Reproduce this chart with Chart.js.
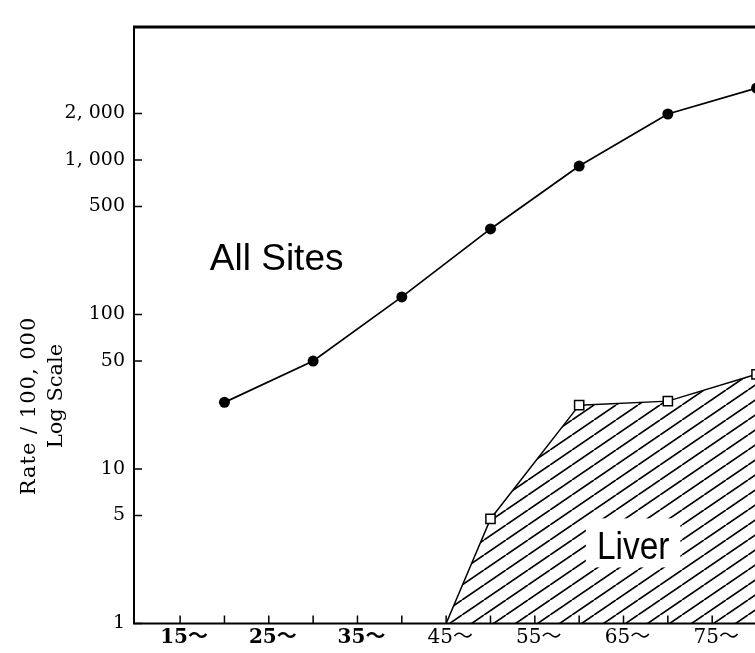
<!DOCTYPE html>
<html>
<head>
<meta charset="utf-8">
<script src="https://cdn.jsdelivr.net/npm/chart.js@4.4.1/dist/chart.umd.min.js"></script>
<style>
  html, body { margin: 0; padding: 0; background: #fff; overflow: hidden; }
  #wrap { width: 755px; height: 653px; overflow: hidden; position: relative; }
  #box { width: 800px; height: 653px; }
</style>
</head>
<body>
<div id="wrap"><div id="box"><canvas id="myChart"></canvas></div></div>
<script>
// ages (mid point of each 10 year group)
const ageAllSites = [20, 30, 40, 50, 60, 70, 80];
const allSites = [27, 50, 130, 358, 914, 1985, 2920];

const ageLiver = [45, 50, 60, 70, 80];
const liver = [1, 4.75, 25.9, 27.5, 41];

const yTicks = [1, 5, 10, 50, 100, 500, 1000, 2000];
const yTickLabels = ['1', '5', '10', '50', '100', '500', '1, 000', '2, 000'];

const xTicks = [15, 25, 35, 45, 55, 65, 75];
const xTickLabels = ['15〜', '25〜', '35〜', '45〜', '55〜', '65〜', '75〜'];
const xTickMarks = [15, 20, 25, 30, 35, 40, 45, 50, 55, 60, 65, 70, 75, 80];

const serif = "'DejaVu Serif', 'Noto Sans CJK JP', serif";
const sans = "'Liberation Sans', sans-serif";

function hatch() {
    const c = document.createElement('canvas');
    c.width = 22;
    c.height = 15;
    const g = c.getContext('2d');
    g.strokeStyle = '#000';
    g.lineWidth = 1.7;
    for (const dx of [-22, 0, 22]) {
        g.beginPath();
        g.moveTo(dx, 15);
        g.lineTo(dx + 22, 0);
        g.stroke();
    }
    return g.createPattern(c, 'repeat');
}

const marco = {
    id: 'marco',
    afterDatasetsDraw(chart) {
        const ctx = chart.ctx;
        const x = chart.scales.x, y = chart.scales.y;
        ctx.save();
        ctx.fillStyle = '#000';
        ctx.textAlign = 'left';
        ctx.textBaseline = 'alphabetic';

        ctx.font = '37px ' + sans;
        ctx.fillText('All Sites', x.getPixelForValue(18.35), y.getPixelForValue(194));

        // white box behind "Liver" (narrow lettering)
        ctx.font = '38px ' + sans;
        const lx = x.getPixelForValue(62.0), ly = y.getPixelForValue(2.6);
        const w = ctx.measureText('Liver').width * 0.88;
        ctx.fillStyle = '#fff';
        ctx.fillRect(lx - 11, ly - 41, w + 22, 49);
        ctx.fillStyle = '#000';
        ctx.translate(lx, ly);
        ctx.scale(0.88, 1);
        ctx.fillText('Liver', 0, 0);
        ctx.restore();
    },
    afterDraw(chart) {
        const ctx = chart.ctx, a = chart.chartArea;
        const x = chart.scales.x, y = chart.scales.y;
        ctx.save();
        ctx.strokeStyle = '#000';

        ctx.lineWidth = 3;
        ctx.beginPath();
        ctx.moveTo(a.left - 1, a.top);
        ctx.lineTo(a.right, a.top);
        ctx.stroke();

        ctx.lineWidth = 2;
        ctx.beginPath();
        ctx.moveTo(a.left, a.top);
        ctx.lineTo(a.left, a.bottom);
        ctx.lineTo(a.right, a.bottom);
        ctx.stroke();

        // inside ticks
        ctx.lineWidth = 1.5;
        ctx.beginPath();
        for (const v of yTicks) {
            const py = y.getPixelForValue(v);
            ctx.moveTo(a.left, py);
            ctx.lineTo(a.left + 8, py);
        }
        for (const v of xTickMarks) {
            const px = x.getPixelForValue(v);
            ctx.moveTo(px, a.bottom);
            ctx.lineTo(px, a.bottom - 8);
        }
        ctx.stroke();

        // y axis title
        ctx.fillStyle = '#000';
        ctx.font = '21px ' + serif;
        ctx.textAlign = 'center';
        ctx.textBaseline = 'middle';
        ctx.translate(30, 406);
        ctx.rotate(-Math.PI / 2);
        ctx.letterSpacing = '1px';
        ctx.fillText('Rate / 100, 000', 0, 0);
        ctx.letterSpacing = '0px';
        ctx.fillText('Log Scale', 10, 27);
        ctx.restore();
    }
};

const ctx = document.querySelector('#myChart');
const myChart = new Chart(ctx, {
    type: 'line',
    data: {
        datasets: [{
            label: 'All Sites',
            data: ageAllSites.map((a, i) => ({ x: a, y: allSites[i] })),
            borderColor: '#000',
            borderWidth: 1.7,
            backgroundColor: '#000',
            pointRadius: 5.5,
            pointBorderWidth: 0,
            tension: 0,
            fill: false,
            order: 0
        }, {
            label: 'Liver',
            data: ageLiver.map((a, i) => ({ x: a, y: liver[i] })),
            borderColor: '#000',
            borderWidth: 1.5,
            backgroundColor: hatch(),
            pointStyle: 'rect',
            pointRadius: [0, 6.5, 6.5, 6.5, 6.5],
            pointBackgroundColor: '#fff',
            pointBorderColor: '#000',
            pointBorderWidth: 1.5,
            tension: 0,
            fill: 'start',
            order: 1
        }]
    },
    options: {
        responsive: true,
        maintainAspectRatio: false,
        animation: false,
        layout: { padding: { top: 27, right: 4, left: 0, bottom: 0 } },
        plugins: {
            legend: { display: false },
            tooltip: { enabled: false }
        },
        scales: {
            x: {
                type: 'linear',
                min: 9.8,
                max: 84,
                grid: { display: false, drawTicks: false },
                border: { display: false },
                afterBuildTicks: s => { s.ticks = xTickMarks.map(v => ({ value: v })); },
                afterFit: s => { s.height = 29.5; },
                ticks: {
                    autoSkip: false,
                    maxRotation: 0,
                    padding: 2,
                    labelOffset: 4,
                    color: '#000',
                    font: c => ({ family: serif, size: 20, weight: (c.tick && c.tick.value < 40) ? 'bold' : 'normal' }),
                    callback: v => {
                        const i = xTicks.indexOf(v);
                        return i >= 0 ? xTickLabels[i] : '';
                    }
                }
            },
            y: {
                type: 'logarithmic',
                min: 1,
                max: 7260,
                grid: { display: false, drawTicks: false },
                border: { display: false },
                afterBuildTicks: s => { s.ticks = yTicks.map(v => ({ value: v })); },
                afterFit: s => { s.width = 134; },
                ticks: {
                    padding: 9,
                    color: '#000',
                    font: { family: serif, size: 19 },
                    callback: v => {
                        const i = yTicks.indexOf(v);
                        return i >= 0 ? yTickLabels[i] : '';
                    }
                }
            }
        }
    },
    plugins: [marco]
});
</script>
</body>
</html>
